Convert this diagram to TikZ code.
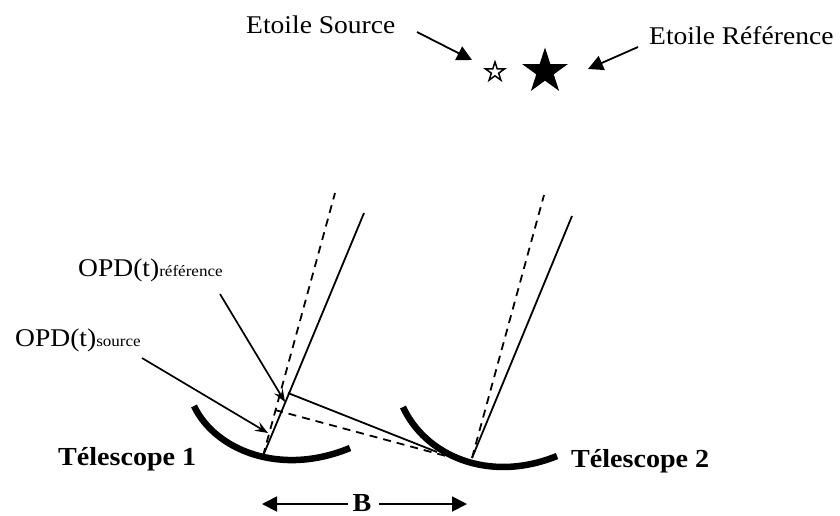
\documentclass[tikz,border=0pt]{standalone}
\usepackage{fontspec}
\setmainfont[FakeStretch=1.08]{Liberation Serif}
\usetikzlibrary{arrows.meta,shapes.geometric}
\tikzset{
 lab/.style={inner sep=0pt,anchor=base west,font=\fontsize{25.5}{28}\selectfont},
 bold/.style={inner sep=0pt,anchor=base west,font=\fontsize{26}{28}\bfseries\selectfont},
 ray/.style={line width=1.8pt},
 dray/.style={line width=1.8pt,dash pattern=on 8pt off 6pt},
 mirror/.style={line width=6.5pt},
 bigarrow/.style={line width=1.8pt,-{Triangle[length=15pt,width=15pt]}},
 thinarrow/.style={line width=1.7pt,-{Stealth[length=13pt,width=10pt,inset=5pt]}},
 barrow/.style={line width=1.8pt,-{Triangle[length=15pt,width=15pt]}},
 starshape/.style={star,star points=5,star point ratio=2.618,inner sep=0pt,line join=miter},
}
\begin{document}
\begin{tikzpicture}[x=1pt,y=-1pt]
\useasboundingbox (0,0) rectangle (840,515);
% text
\node[lab] (src) at (246,33) {Etoile Source};
\node[lab] (ref) at (649,44) {Etoile Référence};
\node[lab] (opdr) at (78,276) {OPD(t)\fontsize{15.8}{16}\selectfont référence};
\node[lab] (opds) at (15,346) {OPD(t)\fontsize{15.8}{16}\selectfont source};
\node[bold] (t1) at (58,465) {Télescope 1};
\node[bold] (t2) at (571,467) {Télescope 2};
\node[bold,anchor=base,inner sep=0pt] (b) at (362,511) {B};
% stars
\node[starshape,draw=black,line width=1.5pt,minimum size=20pt] (s1) at (495,72) {};
\node[starshape,fill=black,minimum size=48pt] (s2) at (545,71.5) {};
% coordinates
\coordinate (m1) at (263,456);
\coordinate (m2) at (472,458);
\coordinate (a1) at (364,213);
\coordinate (a2) at (335,193);
\coordinate (b1) at (572,216);
\coordinate (b2) at (544,195);
\coordinate (c1) at (288,393);
\coordinate (c2) at (437,452);
\coordinate (d1) at (275,410);
\coordinate (d2) at (446,456);
% mirrors
\draw[mirror] (194,406) .. controls (215,450) and (280,477) .. (350,448);
\draw[mirror] (403,407) .. controls (425,455) and (488,484) .. (557,456);
% rays
\draw[ray] (m1) -- (a1);
\draw[dray] (m1) -- (a2);
\draw[ray] (m2) -- (b1);
\draw[dray] (m2) -- (b2);
\draw[ray] (c1) -- (c2);
\draw[dray] (d1) -- (d2);
% arrows
\coordinate (e1) at (417,32); \coordinate (e2) at (472,60);
\coordinate (f1) at (638,47); \coordinate (f2) at (588,69);
\coordinate (g1) at (220,294); \coordinate (g2) at (285,402);
\coordinate (h1) at (142,358); \coordinate (h2) at (268,433);
\draw[bigarrow] (e1) -- (e2);
\draw[bigarrow] (f1) -- (f2);
\draw[thinarrow] (g1) -- (g2);
\draw[thinarrow] (h1) -- (h2);
\coordinate (bl) at (262,504); \coordinate (br) at (467,504);
\coordinate (bls) at (348,504); \coordinate (brs) at (379,504);
\draw[barrow] (bls) -- (bl);
\draw[barrow] (brs) -- (br);
\end{tikzpicture}
\end{document}
